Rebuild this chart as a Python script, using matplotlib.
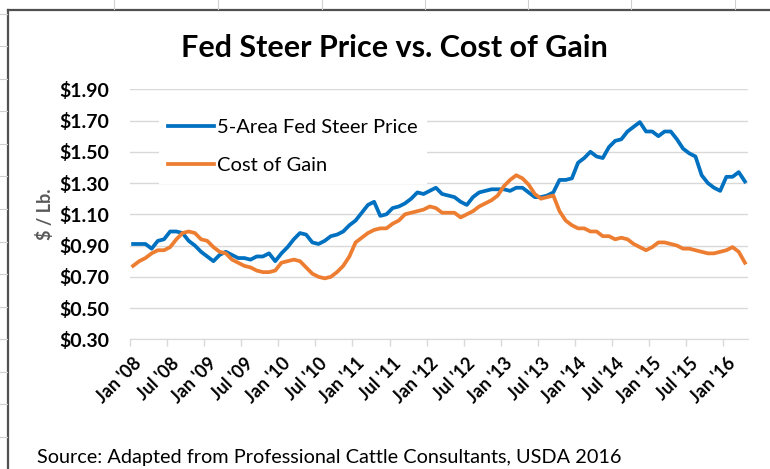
import numpy as np
import matplotlib.pyplot as plt
from matplotlib.lines import Line2D

plt.rcParams['font.family'] = ['Lato', 'DejaVu Sans']

# monthly series, Jan 2008 - Apr 2016 ($ / lb)
fed_steer = [0.91, 0.91, 0.91, 0.88, 0.93, 0.94, 0.99, 0.99, 0.98, 0.93,
             0.90, 0.86, 0.83, 0.80, 0.84, 0.86, 0.84, 0.82, 0.82, 0.81,
             0.83, 0.83, 0.85, 0.80, 0.85, 0.89, 0.94, 0.98, 0.97, 0.92,
             0.91, 0.93, 0.96, 0.97, 0.99, 1.03, 1.06, 1.11, 1.16, 1.18,
             1.09, 1.10, 1.14, 1.15, 1.17, 1.20, 1.24, 1.23, 1.25, 1.27,
             1.23, 1.22, 1.21, 1.18, 1.16, 1.21, 1.24, 1.25, 1.26, 1.26,
             1.26, 1.25, 1.27, 1.27, 1.24, 1.21, 1.21, 1.22, 1.24, 1.32,
             1.32, 1.33, 1.43, 1.46, 1.50, 1.47, 1.46, 1.53, 1.57, 1.58,
             1.63, 1.66, 1.69, 1.63, 1.63, 1.60, 1.63, 1.63, 1.58, 1.52,
             1.49, 1.47, 1.35, 1.30, 1.27, 1.25, 1.34, 1.34, 1.37, 1.31]
cost_of_gain = [0.77, 0.80, 0.82, 0.85, 0.87, 0.87, 0.89, 0.94, 0.98, 0.99,
                0.98, 0.94, 0.93, 0.89, 0.86, 0.85, 0.81, 0.79, 0.77, 0.76,
                0.74, 0.73, 0.73, 0.74, 0.79, 0.80, 0.81, 0.80, 0.76, 0.72,
                0.70, 0.69, 0.70, 0.73, 0.77, 0.83, 0.92, 0.95, 0.98, 1.00,
                1.01, 1.01, 1.04, 1.06, 1.10, 1.11, 1.12, 1.13, 1.15, 1.14,
                1.11, 1.11, 1.11, 1.08, 1.10, 1.12, 1.15, 1.17, 1.19, 1.22,
                1.28, 1.32, 1.35, 1.33, 1.29, 1.23, 1.20, 1.21, 1.22, 1.12,
                1.06, 1.03, 1.01, 1.01, 0.99, 0.99, 0.96, 0.96, 0.94, 0.95,
                0.94, 0.91, 0.89, 0.87, 0.89, 0.92, 0.92, 0.91, 0.90, 0.88,
                0.88, 0.87, 0.86, 0.85, 0.85, 0.86, 0.87, 0.89, 0.86, 0.79]
tick_labels = ["Jan '08", "Jul '08", "Jan '09", "Jul '09", "Jan '10", "Jul '10",
               "Jan '11", "Jul '11", "Jan '12", "Jul '12", "Jan '13", "Jul '13",
               "Jan '14", "Jul '14", "Jan '15", "Jul '15", "Jan '16"]
y_ticks = [0.30, 0.50, 0.70, 0.90, 1.10, 1.30, 1.50, 1.70, 1.90]

W, H = 770, 469
fig = plt.figure(figsize=(W / 100, H / 100), dpi=100)

def fx(x):
    return x / W

def fy(y):
    return 1 - y / H

# spreadsheet-like frame around the chart
frame = '#505050'
fig.add_artist(Line2D([fx(8), fx(8)], [fy(10), 0], color=frame, lw=1.6))
fig.add_artist(Line2D([fx(8), 1], [fy(10), fy(10)], color=frame, lw=1.6))
for yy in np.arange(14, 469, 32.5):
    fig.add_artist(Line2D([0, fx(7)], [fy(yy), fy(yy)], color='#d0d0d0', lw=0.8))
for xx in [114, 218, 322, 425, 528, 631, 735]:
    fig.add_artist(Line2D([fx(xx), fx(xx)], [1, fy(9)], color='#d0d0d0', lw=0.8))

ax = fig.add_axes([fx(130), fy(339.3), fx(748) - fx(130), fy(89.3) - fy(339.3)])

x = np.arange(len(fed_steer))
ax.plot(x, fed_steer, color='#0070C0', lw=2.7, label='5-Area Fed Steer Price',
        solid_joinstyle='round', zorder=3)
ax.plot(x, cost_of_gain, color='#ED7D31', lw=2.7, label='Cost of Gain',
        solid_joinstyle='round', zorder=3)

ax.set_xlim(-0.5, len(fed_steer) - 0.5)
ax.set_ylim(0.3, 1.9)
ax.set_yticks(y_ticks)
ax.set_yticklabels(['${:.2f}'.format(v) for v in y_ticks], fontsize=14,
                   fontweight='bold')
ax.grid(axis='y', color='#d9d9d9', lw=1)
ax.set_axisbelow(True)
ax.tick_params(axis='y', length=0, pad=15)

# tick marks between categories, labels on the category
ax.set_xticks(np.arange(-0.5, len(fed_steer) - 1, 6))
ax.set_xticklabels([])
ax.tick_params(axis='x', which='major', length=5, color='#d9d9d9', width=1)
ax.set_xticks(np.arange(0, 6 * len(tick_labels), 6), minor=True)
ax.set_xticklabels(tick_labels, minor=True, rotation=45, ha='right', va='top',
                   rotation_mode='anchor', fontsize=13, fontweight='bold')
ax.tick_params(axis='x', which='minor', length=0, pad=11)

for s in ['left', 'right', 'top']:
    ax.spines[s].set_visible(False)
ax.spines['bottom'].set_color('#d9d9d9')

ax.set_ylabel('$ / Lb.', color='#595959', fontsize=13, fontweight='bold', labelpad=4)

leg = ax.legend(loc='upper left', fontsize=14.5, handlelength=2.3,
                handletextpad=0.15, labelspacing=1.05, borderpad=0.45,
                frameon=True, fancybox=False)
leg.get_frame().set_facecolor('white')
leg.get_frame().set_edgecolor('none')
leg.get_frame().set_alpha(1)
leg.set_bbox_to_anchor((fx(149), fy(100)), transform=fig.transFigure)

fig.text(fx(394), fy(48), 'Fed Steer Price vs. Cost of Gain', ha='center',
         va='center', fontsize=22, fontweight='bold')
fig.text(fx(37), fy(457), 'Source: Adapted from Professional Cattle Consultants, USDA 2016',
         ha='left', va='center', fontsize=14.3)

fig.savefig('out.png', dpi=100)
